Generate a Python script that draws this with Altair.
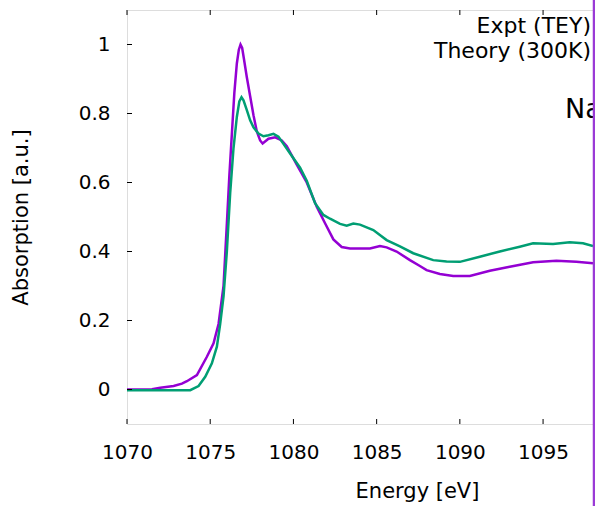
import altair as alt
import pandas as pd

# ---- data ----
series_names = ["Expt (TEY)", "Theory (300K)"]

expt_energy = [1070.0, 1071.5, 1072.0, 1072.8, 1073.3, 1073.6, 1074.2, 1074.8, 1075.2, 1075.5,
               1075.8, 1076.0, 1076.15, 1076.3, 1076.45, 1076.6, 1076.72, 1076.82, 1076.92, 1077.02,
               1077.2, 1077.4, 1077.6, 1077.8, 1078.0, 1078.15, 1078.5, 1078.9, 1079.3, 1079.6,
               1080.2, 1080.8, 1081.4, 1081.9, 1082.4, 1082.9, 1083.4, 1084.6, 1085.2, 1085.6,
               1086.2, 1087.0, 1087.6, 1088.0, 1088.8, 1089.6, 1090.6, 1091.8, 1093.0, 1094.4,
               1095.8, 1097.0, 1098.0]
expt_abs = [0.0, 0.001, 0.005, 0.010, 0.017, 0.024, 0.042, 0.095, 0.134, 0.19,
            0.30, 0.48, 0.62, 0.74, 0.86, 0.945, 0.985, 1.0, 0.99, 0.96,
            0.905, 0.85, 0.795, 0.748, 0.722, 0.713, 0.727, 0.731, 0.722, 0.705,
            0.652, 0.600, 0.530, 0.482, 0.435, 0.413, 0.409, 0.409, 0.416, 0.412,
            0.400, 0.375, 0.358, 0.346, 0.335, 0.329, 0.329, 0.344, 0.356, 0.369,
            0.373, 0.370, 0.366]

theory_energy = [1070.0, 1073.8, 1074.3, 1074.7, 1075.1, 1075.4, 1075.6, 1075.8, 1076.0, 1076.2,
                 1076.4, 1076.6, 1076.75, 1076.88, 1077.0, 1077.2, 1077.4, 1077.6, 1077.9, 1078.2,
                 1078.5, 1078.8, 1079.1, 1079.4, 1079.8, 1080.4, 1080.8, 1081.3, 1081.8, 1082.2,
                 1082.8, 1083.2, 1083.6, 1084.0, 1084.8, 1085.6, 1086.4, 1087.2, 1088.4, 1089.2,
                 1090.0, 1091.2, 1092.4, 1093.6, 1094.4, 1095.6, 1096.6, 1097.4, 1098.0]
theory_abs = [-0.002, -0.002, 0.010, 0.037, 0.076, 0.124, 0.19, 0.27, 0.40, 0.57,
              0.70, 0.79, 0.835, 0.847, 0.838, 0.81, 0.78, 0.76, 0.742, 0.734,
              0.737, 0.741, 0.733, 0.712, 0.684, 0.643, 0.605, 0.540, 0.506, 0.495,
              0.480, 0.475, 0.481, 0.478, 0.462, 0.433, 0.415, 0.395, 0.375, 0.371,
              0.370, 0.385, 0.400, 0.414, 0.424, 0.422, 0.427, 0.424, 0.416]

x_ticks = [1070, 1075, 1080, 1085, 1090, 1095]
y_ticks = [0, 0.2, 0.4, 0.6, 0.8, 1.0]
x_domain = [1070, 1098]
y_domain = [-0.1, 1.1]
sample_label = "Na"

colors = ["#9400d3", "#009e73"]
FONT = "DejaVu Sans"

df = pd.concat([
    pd.DataFrame({"energy": expt_energy, "absorption": expt_abs, "series": series_names[0]}),
    pd.DataFrame({"energy": theory_energy, "absorption": theory_abs, "series": series_names[1]}),
])

W, H = 466, 414

x_enc = alt.X("energy:Q", scale=alt.Scale(domain=x_domain, nice=False, zero=False),
              axis=alt.Axis(values=x_ticks, format="d", ticks=False, tickSize=0, domain=False,
                            grid=False, labelFlush=False, labelPadding=18, labelFontSize=20,
                            labelColor="black", labelFont=FONT,
                            title="Energy [eV]", titleFont=FONT, titleFontSize=21,
                            titleFontWeight="normal", titleColor="black",
                            titleX=290, titleY=73, titleBaseline="alphabetic", titleAlign="center"))
y_enc = alt.Y("absorption:Q", scale=alt.Scale(domain=y_domain, nice=False, zero=False),
              axis=alt.Axis(values=y_ticks, format="~g", ticks=False, tickSize=0, domain=False,
                            grid=False, labelPadding=17, labelFontSize=20, labelColor="black",
                            labelFont=FONT,
                            title="Absorption [a.u.]", titleFont=FONT, titleFontSize=21,
                            titleFontWeight="normal", titleColor="black", titleAngle=270,
                            titleX=-99.5, titleY=H / 2, titleBaseline="alphabetic",
                            titleAlign="center"))

lines = alt.Chart(df).mark_line(strokeWidth=2.5, clip=True).encode(
    x=x_enc, y=y_enc,
    color=alt.Color("series:N", scale=alt.Scale(domain=series_names, range=colors), legend=None),
    order="energy:Q",
)

xt = pd.DataFrame({"energy": x_ticks})
yt = pd.DataFrame({"absorption": y_ticks})

xticks_bottom = alt.Chart(xt).mark_rule(color="black", strokeWidth=1).encode(
    x="energy:Q", y=alt.value(H), y2=alt.value(H - 5))
xticks_top = alt.Chart(xt).mark_rule(color="black", strokeWidth=1).encode(
    x="energy:Q", y=alt.value(0), y2=alt.value(5))
yticks_left = alt.Chart(yt).mark_rule(color="black", strokeWidth=1).encode(
    y="absorption:Q", x=alt.value(0), x2=alt.value(5))

one = alt.Data(values=[{}])
legend1 = alt.Chart(one).mark_text(align="right", baseline="alphabetic", font=FONT,
                                   fontSize=22, color="black").encode(
    x=alt.value(464), y=alt.value(23), text=alt.value(series_names[0]))
legend2 = alt.Chart(one).mark_text(align="right", baseline="alphabetic", font=FONT,
                                   fontSize=22, color="black").encode(
    x=alt.value(464), y=alt.value(48), text=alt.value(series_names[1]))
sample = alt.Chart(one).mark_text(align="left", baseline="alphabetic", font=FONT,
                                  fontSize=27, color="black").encode(
    x=alt.value(438), y=alt.value(108), text=alt.value(sample_label))
bar = alt.Chart(one).mark_rule(color="#9a3ad6", strokeWidth=3.5).encode(
    x=alt.value(467.5), x2=alt.value(467.5), y=alt.value(-12), y2=alt.value(H + 90))

chart = alt.layer(
    lines, xticks_bottom, xticks_top, yticks_left, legend1, legend2, sample, bar
).properties(
    width=W, height=H,
    padding={"left": 127, "top": 10, "right": 2, "bottom": 82},
    autosize=alt.AutoSizeParams(type="none"),
    background="white",
).configure_view(
    stroke="black", strokeWidth=1
).configure(font=FONT)

chart.save("out.html", embed_options={"renderer": "svg", "actions": False})
